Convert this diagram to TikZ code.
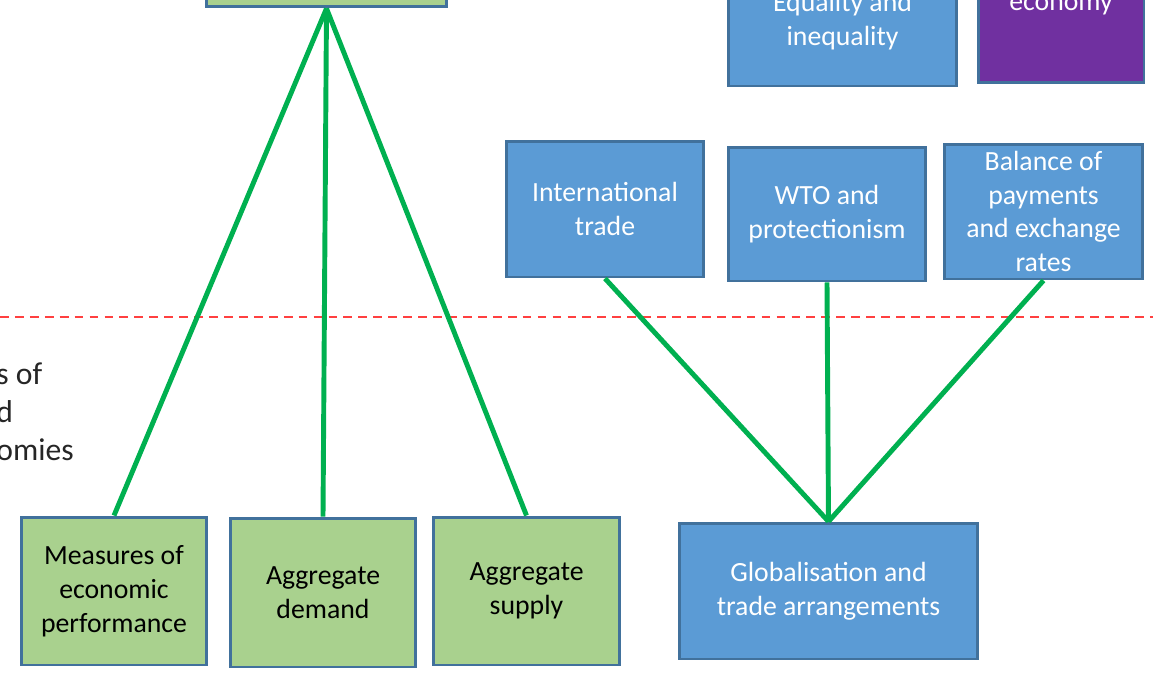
\documentclass[tikz,border=0pt]{standalone}
\usepackage{fontspec}
\setmainfont{Carlito}
\definecolor{boxblue}{HTML}{5B9BD5}
\definecolor{edgeblue}{HTML}{41719C}
\definecolor{boxgreen}{HTML}{A9D18E}
\definecolor{boxpurple}{HTML}{7030A0}
\definecolor{linkgreen}{HTML}{00B050}
\tikzset{
  topic/.style={draw=edgeblue, line width=1.7pt, align=center, inner sep=2pt,
    font=\fontsize{15.8}{19.3}\selectfont},
  bluetopic/.style={topic, fill=boxblue, text=white},
  greentopic/.style={topic, fill=boxgreen, text=black},
  link/.style={draw=linkgreen, line width=2.8pt}
}
\begin{document}
\begin{tikzpicture}[x=0.02cm,y=-0.02cm]
    \path[use as bounding box, clip] (0,0) rectangle (1153,677);
    % boxes cut by the top edge
    \node[greentopic, minimum width=4.82cm, minimum height=2.8cm] (theme) at (326.5,-63) {};
    \node[bluetopic, minimum width=4.58cm, minimum height=2.6cm] (equal) at (842.5,21) {Equality and\\inequality};
    \node[bluetopic, fill=boxpurple, minimum width=3.32cm, minimum height=3.08cm] (econ) at (1061,6) {economy};
    % trade boxes
    \node[bluetopic, minimum width=3.96cm, minimum height=2.72cm] (inttrade) at (605,209) {International\\trade};
    \node[bluetopic, minimum width=3.96cm, minimum height=2.68cm] (wto) at (827,214) {WTO and\\protectionism};
    \node[bluetopic, minimum width=3.98cm, minimum height=2.7cm] (bop) at (1043.5,211.5) {Balance of\\payments\\and exchange\\rates};
    % divider
    \draw[red!75, line width=0.85pt, dash pattern=on 5pt off 3.5pt] (0,317) -- (1153,317);
    \node[anchor=north west, align=left, text=black!85, inner sep=0pt,
      font=\fontsize{18}{21.8}\selectfont] (side) at (-4,362) {s of\\d\\omies};
    % lower boxes
    \node[greentopic, minimum width=3.72cm, minimum height=2.96cm] (measures) at (114,591) {Measures of\\economic\\performance};
    \node[greentopic, minimum width=3.72cm, minimum height=2.98cm] (ad) at (323,592.5) {Aggregate\\demand};
    \node[greentopic, minimum width=3.74cm, minimum height=2.96cm] (as) at (526.5,591) {Aggregate\\supply};
    \node[bluetopic, minimum width=5.98cm, minimum height=2.72cm] (glob) at (828.5,591) {Globalisation and\\trade arrangements};
    % links
    \draw[link] (theme.south) -- (measures.north);
    \draw[link] (theme.south) -- (ad.north);
    \draw[link] (theme.south) -- (as.north);
    \draw[link] (inttrade.south) -- (glob.north);
    \draw[link] (wto.south) -- (glob.north);
    \draw[link] (bop.south) -- (glob.north);
\end{tikzpicture}
\end{document}
